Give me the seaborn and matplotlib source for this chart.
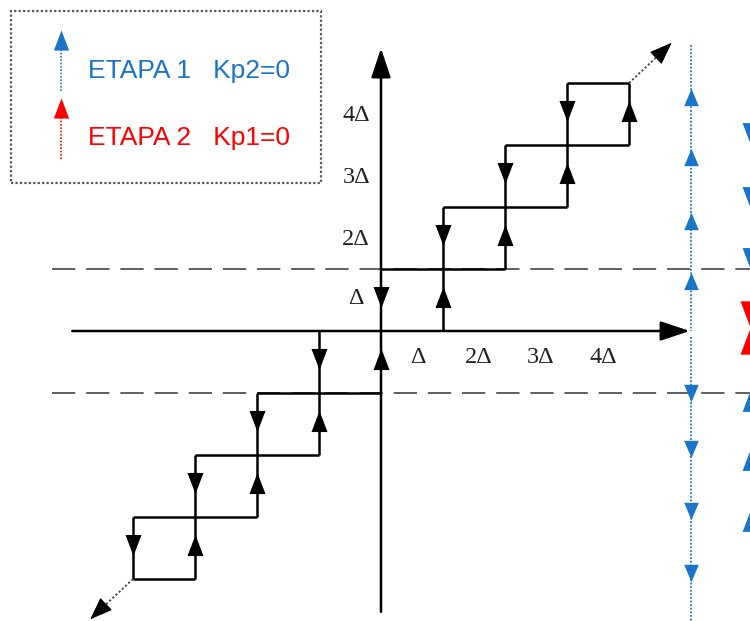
import matplotlib
matplotlib.use("Agg")
import matplotlib.pyplot as plt
from matplotlib.path import Path
from matplotlib.patches import Rectangle
import seaborn as sns
import pandas as pd

# staircase levels, in units of Delta
levels = [1, 2, 3, 4]

# black direction arrows on the vertical branches
down_x = [0, 1, 2, 3, -1, -2, -3, -4]
down_y = [0.55, 1.55, 2.55, 3.55, -0.45, -1.45, -2.45, -3.45]
up_x = [1, 2, 3, 4, 0, -1, -2, -3]
up_y = [0.55, 1.55, 2.55, 3.55, -0.45, -1.45, -2.45, -3.45]

# blue trajectory on the right (x = 5 Delta)
blue_x = 5
blue_up_y = [0.8, 1.78, 2.8, 3.78]
blue_down_y = [-1.0, -1.9, -2.9, -3.9]

# cut-off markers at the right edge
edge_x = 5.95
edge_down_y = [3.19, 2.16, 1.18]
edge_up_y = [-1.13, -2.08, -3.06]
red_down_y = [0.28]
red_up_y = [-0.16]

# axis labels
x_labels = ["Δ", "2Δ", "3Δ", "4Δ"]
x_label_pos = [0.6, 1.58, 2.58, 3.58]
y_labels = ["Δ", "2Δ", "3Δ", "4Δ"]
y_label_pos = [0.53, 1.48, 2.48, 3.47]

legend_items = ["ETAPA 1   Kp2=0", "ETAPA 2   Kp1=0"]

BLUE = "#1a74c8"
RED = "#ff0000"

sns.set_style("white")
plt.rcParams["font.family"] = ["Liberation Sans", "DejaVu Sans"]

UP = Path([(-0.38, -0.5), (0.38, -0.5), (0, 0.5), (-0.38, -0.5)])
DOWN = Path([(-0.38, 0.5), (0.38, 0.5), (0, -0.5), (-0.38, 0.5)])
UP_B = Path([(-0.42, -0.5), (0.42, -0.5), (0, 0.5), (-0.42, -0.5)])
DOWN_B = Path([(-0.42, 0.5), (0.42, 0.5), (0, -0.5), (-0.42, 0.5)])

fig = plt.figure(figsize=(7.5, 6.21), dpi=100)
ax = fig.add_axes([0, 0, 1, 1])
u = 62.0
ax.set_xlim(-381 / u, (750 - 381) / u)
ax.set_ylim((331 - 621) / u, 331 / u)
ax.axis("off")

# dashed threshold lines
for yy in [1, -1]:
    ax.plot([-5.3, 6.2], [yy, yy], color="#444444", lw=1.2,
            dashes=(14, 6.5), zorder=1)

# staircase
top = max(levels)
for s in [1, -1]:
    for k in levels:
        x0, x1 = s * (k - 1), s * min(k + 1, top)
        ax.plot([x0, x1], [s * k, s * k], color="k", lw=1.8, zorder=3,
                solid_capstyle="butt")
        ax.plot([s * k, s * k], [x0, x1], color="k", lw=1.8, zorder=3,
                solid_capstyle="butt")
    # dotted continuation
    tip = (s * 4.69, s * 4.65)
    ax.plot([s * top, s * 4.5], [s * top, s * 4.47], color="#444444",
            lw=1.3, ls=(0, (1.2, 1.2)), zorder=3)
    ax.annotate("", xy=tip, xytext=(s * 4.45, s * 4.42),
                arrowprops=dict(arrowstyle="-|>,head_length=0.8,head_width=0.3",
                                mutation_scale=18, color="k", lw=0.8,
                                shrinkA=0, shrinkB=0), zorder=4)

# main axes with arrow heads
arrow = dict(arrowstyle="-|>,head_length=0.9,head_width=0.3",
             mutation_scale=20, color="k", lw=1.8, shrinkA=0, shrinkB=0)
ax.annotate("", xy=(0, 4.56), xytext=(0, -4.53), arrowprops=arrow, zorder=3)
ax.annotate("", xy=(4.98, 0), xytext=(-4.98, 0), arrowprops=arrow, zorder=3)

# blue dotted trajectory
ax.plot([blue_x, blue_x], [4.61, 0.0], color=BLUE, lw=1.3, ls=(0, (1, 1)), zorder=2)
ax.plot([blue_x, blue_x], [-0.1, -4.75], color=BLUE, lw=1.3, ls=(0, (1, 1)), zorder=2)

marks = pd.DataFrame({"x": up_x + down_x, "y": up_y + down_y,
                      "d": ["up"] * len(up_x) + ["down"] * len(down_x)})
for d, m in [("up", UP), ("down", DOWN)]:
    sub = marks[marks["d"] == d]
    sns.scatterplot(data=sub, x="x", y="y", marker=m, s=15.2 ** 2, color="k",
                    linewidth=0, ax=ax, zorder=5, legend=False)

sns.scatterplot(x=[blue_x] * len(blue_up_y), y=blue_up_y, marker=UP_B, s=12.5 ** 2,
                color=BLUE, linewidth=0, ax=ax, zorder=5, legend=False)
sns.scatterplot(x=[blue_x] * len(blue_down_y), y=blue_down_y, marker=DOWN_B, s=12.5 ** 2,
                color=BLUE, linewidth=0, ax=ax, zorder=5, legend=False)
sns.scatterplot(x=[edge_x] * len(edge_down_y), y=edge_down_y, marker=DOWN, s=15 ** 2,
                color=BLUE, linewidth=0, ax=ax, zorder=5, legend=False)
sns.scatterplot(x=[edge_x] * len(edge_up_y), y=edge_up_y, marker=UP, s=15 ** 2,
                color=BLUE, linewidth=0, ax=ax, zorder=5, legend=False)
sns.scatterplot(x=[edge_x], y=red_down_y, marker=DOWN, s=19 ** 2,
                color=RED, linewidth=0, ax=ax, zorder=5, legend=False)
sns.scatterplot(x=[edge_x], y=red_up_y, marker=UP, s=19 ** 2,
                color=RED, linewidth=0, ax=ax, zorder=5, legend=False)

# axis labels
for lab, xp in zip(x_labels, x_label_pos):
    ax.text(xp, -0.42, lab, ha="center", va="center", fontsize=17.5,
            family=["Liberation Serif", "DejaVu Serif"], color="#222222")
for lab, yp in zip(y_labels, y_label_pos):
    ax.text(-0.4, yp, lab, ha="center", va="center", fontsize=17.5,
            family=["Liberation Serif", "DejaVu Serif"], color="#222222")

# legend box
ax.add_patch(Rectangle((-5.97, 2.39), 5.0, 2.77, fill=False, ec="#555555",
                       lw=1.6, ls=(0, (1, 1)), zorder=6))
for lab, col, ybase, ytxt in [(legend_items[0], BLUE, 3.87, 4.19),
                              (legend_items[1], RED, 2.77, 3.11)]:
    ax.plot([-5.16, -5.16], [ybase, ybase + 0.7], color=col, lw=1.2,
            ls=(0, (1, 1)), zorder=6)
    ax.scatter([-5.16], [ybase + 0.82], marker=UP, s=14.5 ** 2, color=col,
               linewidth=0, zorder=6)
    ax.text(-4.73, ytxt, lab, ha="left", va="center", fontsize=19, color=col)

fig.savefig("out.png", dpi=100)
